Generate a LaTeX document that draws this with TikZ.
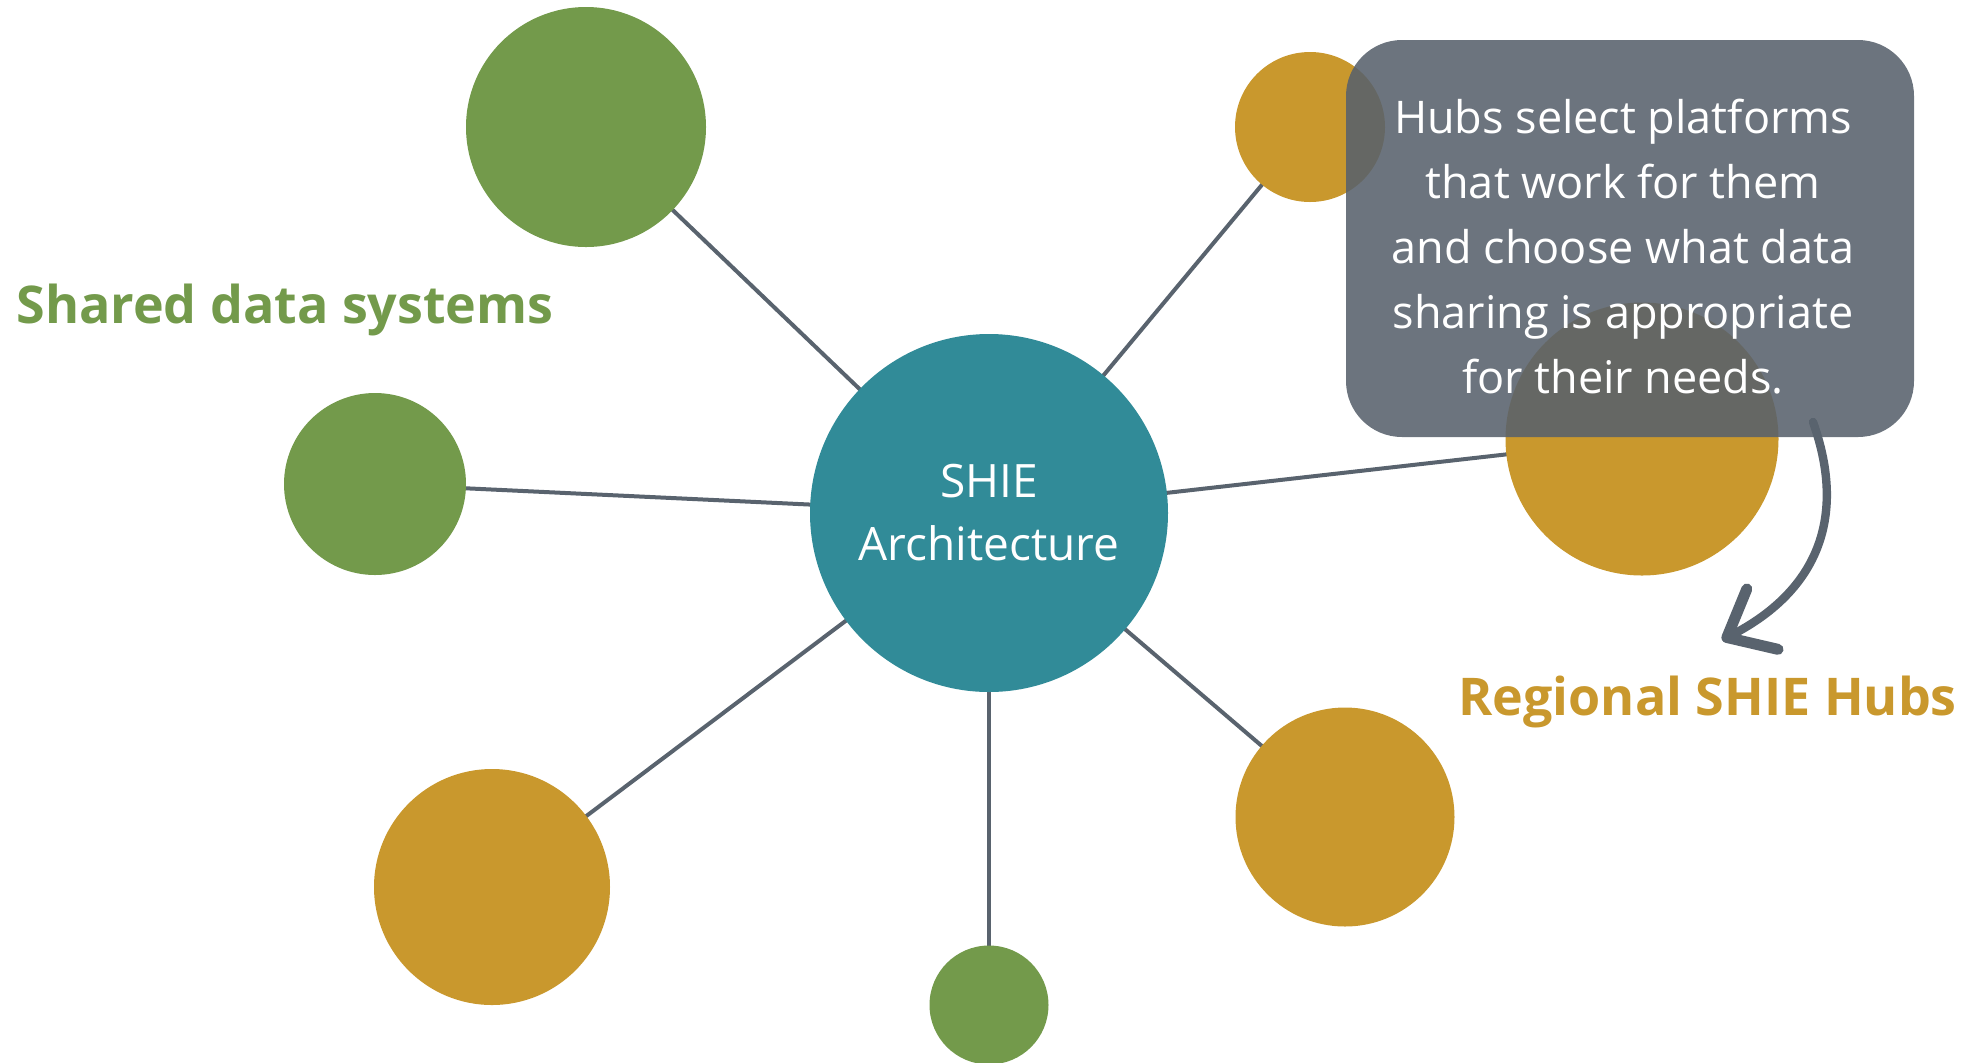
\documentclass[tikz,border=0pt]{standalone}
\usepackage{fontspec}
\setmainfont{Open Sans}
\usetikzlibrary{arrows.meta,backgrounds}
\definecolor{grn}{HTML}{739A4B}
\definecolor{gld}{HTML}{C9982D}
\definecolor{teal}{HTML}{318B98}
\definecolor{lin}{HTML}{59636E}
\definecolor{boxc}{HTML}{58616C}
\definecolor{arrc}{HTML}{59636E}
\tikzset{
  bub/.style={circle,inner sep=0pt,draw=none,minimum size=#1pt},
  spoke/.style={draw=lin,line width=2pt},
  notebox/.style={draw=none,fill=boxc,fill opacity=0.88,rounded corners=28pt,
    minimum width=284pt,minimum height=198.5pt,inner sep=0pt},
  notetxt/.style={text=white,align=center,font=\fontsize{22.5pt}{32.5pt}\selectfont,inner sep=0pt},
  heading/.style={font=\fontsize{26pt}{30pt}\selectfont\bfseries,inner sep=0pt},
  arr/.style={draw=arrc,line width=4.2pt,line cap=round,
    -{Straight Barb[length=20pt,width=34pt,round,line width=5.5pt]}}
}
\begin{document}
\begin{tikzpicture}[x=0.5pt,y=-0.5pt]
\useasboundingbox (0,0) rectangle (1972,1062);
% circles
\node[bub=179,fill=teal,text=white,align=center,
  font=\fontsize{23pt}{31.5pt}\selectfont] (c) at (989,513) {SHIE\\Architecture};
\node[bub=120,fill=grn] (g1) at (586,127) {};
\node[bub=91,fill=grn] (g2) at (375,484) {};
\node[bub=118,fill=gld] (h1) at (492,887) {};
\node[bub=59.5,fill=grn] (g3) at (989,1005) {};
\node[bub=109.5,fill=gld] (h2) at (1345,817) {};
\node[bub=136.5,fill=gld] (h3) at (1642,439) {};
\node[bub=75,fill=gld] (h4) at (1310,127) {};
% spokes
\begin{scope}[on background layer]
\foreach \n in {g1,g2,h1,g3,h2,h3,h4}
  \draw[spoke] (c.center) -- (\n.center);
\end{scope}
% note box
\node[notebox] (note) at (1630,238.5) {};
\node[notetxt] (notetext) at (1623,247) {Hubs select platforms\\that work for them\\and choose what data\\sharing is appropriate\\for their needs.};
% arrow
\coordinate (as) at (1813,422);
\coordinate (ae) at (1722,640);
\draw[arr] (as) .. controls (1848,520) and (1815,592) .. (ae);
% headings
\node[heading,text=grn,anchor=base west] (shared) at (16,323) {Shared data systems};
\node[heading,text=gld,anchor=base west] (regional) at (1458,715) {Regional SHIE Hubs};
\end{tikzpicture}
\end{document}
